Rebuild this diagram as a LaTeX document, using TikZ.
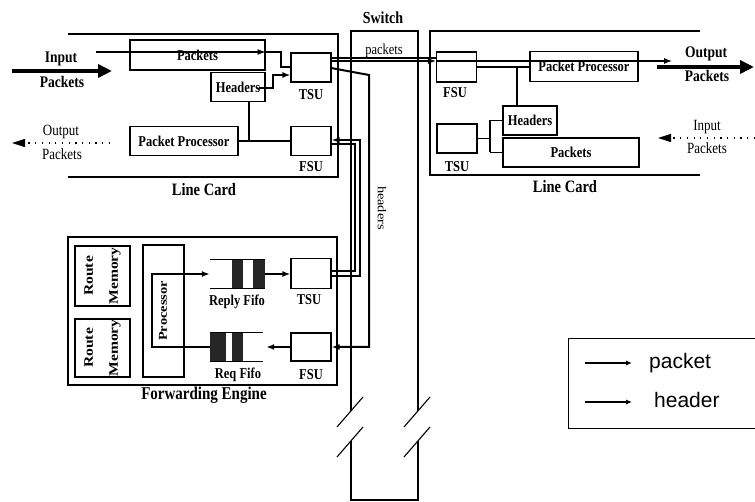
\documentclass[tikz,border=0pt]{standalone}
\usepackage{fontspec}
\usepackage{graphicx}
\setmainfont{Liberation Serif}
\newfontfamily\legendfont{Liberation Sans}
\usetikzlibrary{arrows.meta,calc}
\newcommand{\vs}[1]{\scalebox{1}[1.2]{#1}}
\newcommand{\hs}[1]{\scalebox{1.2}[1]{#1}}
\begin{document}
\begin{tikzpicture}[x=1pt,y=-1pt,
  box/.style={draw, line width=1.1pt, inner sep=0pt, rectangle, font=\fontsize{12.5}{13}\selectfont\bfseries},
  lbl/.style={inner sep=0pt, font=\fontsize{12.5}{13}\selectfont\bfseries},
  rlbl/.style={inner sep=0pt, font=\fontsize{13}{14}\selectfont},
  frame/.style={line width=1.1pt},
  wire/.style={line width=1.1pt},
  hwire/.style={line width=2pt},
  tip/.style={-{Latex[length=8pt,width=6pt]}},
  bigarrow/.style={line width=4pt,-{Triangle[length=14pt,width=13pt]}},
  dotarrow/.style={line width=1.1pt,dash pattern=on 1.2pt off 5.5pt,-{Triangle[length=13pt,width=8pt]}},
  fifo/.style={fill=black!85, draw=none},
  legtip/.style={line width=1.1pt,-{Latex[length=6pt,width=5pt]}}
]
\useasboundingbox (0,0) rectangle (755,502);

% ---------------- Switch ----------------
\node[inner sep=0pt, minimum width=67, minimum height=469] (sw) at (384.5,265.5) {};
\draw[frame] (351,411) -- (351,31) -- (418,31) -- (418,411);
\draw[frame] (351,441) -- (351,500) -- (418,500) -- (418,441);
\draw[frame] (337,427) -- (363,397);
\draw[frame] (337,457) -- (363,427);
\draw[frame] (404,427) -- (430,397);
\draw[frame] (404,457) -- (430,427);
\node[lbl, font=\fontsize{14}{15}\selectfont\bfseries] (swl) at (383,18) {\vs{Switch}};
\node[rlbl, font=\fontsize{12.5}{13}\selectfont] (swp) at (384,51) {\vs{packets}};
\node[rlbl, font=\fontsize{12}{13}\selectfont, rotate=-90] (swh) at (382,208) {\hs{headers}};

% ---------------- Left line card ----------------
\draw[frame] (68,34) -- (338,34) -- (338,177) -- (68,177);
\node[lbl, font=\fontsize{14.5}{15}\selectfont\bfseries] (lcl) at (204,190) {\vs{Line Card}};
\node[box, minimum width=135, minimum height=30] (lpk) at (197.5,55) {\vs{Packets}};
\node[box, minimum width=54, minimum height=29] (lhd) at (238,87) {\vs{Headers}};
\node[box, minimum width=108, minimum height=29] (lpp) at (184,141) {\vs{Packet Processor}};
\node[box, minimum width=40, minimum height=29] (ltsu) at (311,67.5) {};
\node[box, minimum width=40, minimum height=29] (lfsu) at (311,141) {};
\node[lbl] (ltsul) at (311,95) {\vs{TSU}};
\node[lbl] (lfsul) at (311,167) {\vs{FSU}};

\node[lbl, font=\fontsize{13.5}{14}\selectfont\bfseries] (inl1) at (61,59) {\vs{Input}};
\node[lbl, font=\fontsize{13.5}{14}\selectfont\bfseries] (inl2) at (62,82) {\vs{Packets}};
\node[rlbl] (outl1) at (61,132) {\vs{Output}};
\node[rlbl] (outl2) at (62,154) {\vs{Packets}};
\coordinate (inA) at (12,71);
\coordinate (inB) at (112,71);
\draw[bigarrow] (inA) -- (inB);
\coordinate (loA) at (110,143);
\coordinate (loB) at (12,143);
\draw[dotarrow] (loA) -- (loB);

% ---------------- Right line card ----------------
\draw[frame] (700,31) -- (430,31) -- (430,175) -- (700,175);
\node[lbl, font=\fontsize{14.5}{15}\selectfont\bfseries] (rcl) at (565,187) {\vs{Line Card}};
\node[box, minimum width=40, minimum height=30] (rfsu) at (456.5,67) {};
\node[box, minimum width=108, minimum height=30] (rpp) at (584,66.5) {\vs{Packet Processor}};
\node[box, minimum width=54, minimum height=29] (rhd) at (530,120.5) {\vs{Headers}};
\node[box, minimum width=136, minimum height=29] (rpk) at (571,152.5) {\vs{Packets}};
\node[box, minimum width=40, minimum height=29] (rtsu) at (457,138.5) {};
\node[lbl] (rfsul) at (455,93) {\vs{FSU}};
\node[lbl] (rtsul) at (457,167) {\vs{TSU}};

\node[lbl, font=\fontsize{13.5}{14}\selectfont\bfseries] (outr1) at (706,54) {\vs{Output}};
\node[lbl, font=\fontsize{13.5}{14}\selectfont\bfseries] (outr2) at (707,76) {\vs{Packets}};
\node[rlbl] (inr1) at (707,127) {\vs{Input}};
\node[rlbl] (inr2) at (707,148) {\vs{Packets}};
\coordinate (roA) at (657,67);
\coordinate (roB) at (754,67);
\draw[bigarrow] (roA) -- (roB);
\coordinate (riA) at (755,138);
\coordinate (riB) at (658,138);
\draw[dotarrow] (riA) -- (riB);

% ---------------- Forwarding engine ----------------
\draw[frame] (68,237) rectangle (337,385);
\node[lbl, font=\fontsize{15}{16}\selectfont\bfseries] (fel) at (204,395) {\vs{Forwarding Engine}};
\node[box, minimum width=55, minimum height=60, align=center, font=\fontsize{13}{15}\selectfont\bfseries] (rm1) at (102.5,276) {};
\node[lbl, rotate=90, align=center, font=\fontsize{13}{25}\selectfont\bfseries] at (rm1.center) {\hs{Route}\\\hs{Memory}};
\node[box, minimum width=55, minimum height=58] (rm2) at (102.5,348) {};
\node[lbl, rotate=90, align=center, font=\fontsize{13}{25}\selectfont\bfseries] at (rm2.center) {\hs{Route}\\\hs{Memory}};
\node[box, minimum width=41, minimum height=132] (proc) at (163.5,311) {};
\node[lbl, rotate=90, font=\fontsize{12}{13}\selectfont\bfseries] (procl) at (163,311) {\hs{Processor}};

\node[inner sep=0pt, minimum width=55, minimum height=28] (rpf) at (237.5,274) {};
\fill[fifo] (232,260) rectangle (243,288);
\fill[fifo] (253,260) rectangle (265,288);
\draw[frame] (rpf.north west) -- (rpf.north east);
\draw[frame] (rpf.south west) -- (rpf.south east);
\node[lbl] (rpfl) at (237,302) {\vs{Reply Fifo}};

\node[inner sep=0pt, minimum width=53, minimum height=28] (rqf) at (236.5,347) {};
\fill[fifo] (210,333) rectangle (226,361);
\fill[fifo] (232,333) rectangle (243,361);
\draw[frame] (rqf.north west) -- (rqf.north east);
\draw[frame] (rqf.south west) -- (rqf.south east);
\node[lbl] (rqfl) at (238,375) {\vs{Req Fifo}};

\node[box, minimum width=40, minimum height=30] (ftsu) at (311,273.5) {};
\node[box, minimum width=40, minimum height=28] (ffsu) at (311,347) {};
\node[lbl] (ftsul) at (309,300) {\vs{TSU}};
\node[lbl] (ffsul) at (311,375) {\vs{FSU}};

% ---------------- Connectors: left card ----------------
\coordinate (pin) at (96,52);
\coordinate (pk2) at (281,67);
\draw[wire, tip] (pin) -- (pin -| lpk.east);
\draw[hwire] (pin -| lpk.east) -| (pk2) -- (pk2 -| ltsu.west);
\coordinate (h1) at (273,88);
\coordinate (h2) at (273,75);
\draw[hwire, tip] ($(lhd.east)+(-7,1)$) -- (h1) -- (h2) -- (h2 -| ltsu.west);
\coordinate (hd) at (249,141);
\draw[hwire] (hd |- lhd.south) -- (hd);
\draw[wire] (lpp.east) -- (hd);
\draw[hwire] (hd) -- (lfsu.west);

% packets across the switch
\coordinate (sp1) at (331,58);
\coordinate (sp2) at (331,61);
\coordinate (pout) at (672,61);
\draw[wire] (sp1) -- (sp1 -| rfsu.west);
\draw[wire, tip] (sp2) -- (sp2 -| rfsu.west);
\draw[wire, tip] (sp2 -| rfsu.west) -- (pout);

% headers down the switch
\coordinate (hs0) at (331,68);
\coordinate (hs1) at (369,75);
\coordinate (hs2) at (369,347);
\draw[hwire, tip, line join=miter] (hs0) -- (hs1) -- (hs2) -- (hs2 -| ffsu.east);

% headers back up the switch
\coordinate (r1) at (360,276);
\coordinate (r2) at (360,140);
\draw[hwire, tip] (ftsu.east |- r1) -- (r1) -- (r2) -- (r2 -| lfsu.east);
\coordinate (q1) at (355,271);
\coordinate (q2) at (355,144);
\draw[wire] (ftsu.east |- q1) -- (q1) -- (q2) -- (q2 -| lfsu.east);

% ---------------- Connectors: right card ----------------
\draw[wire] (rfsu.east) -- (rfsu.east -| rpp.west);
\coordinate (rb) at (517,67);
\draw[wire] (rb) -- (rb |- rhd.north);
\coordinate (rt) at (490,138.5);
\draw[wire] (rtsu.east) -- (rt);
\draw[wire] (rt |- rhd.west) -- (rt |- rpk.west);
\draw[wire] (rt |- rhd.west) -- (rhd.west);
\draw[wire] (rt |- rpk.west) -- (rpk.west);

% ---------------- Connectors: forwarding engine ----------------
\coordinate (p1) at (152,347);
\coordinate (p2) at (152,274);
\draw[hwire, tip] (rqf.west) -- (p1) -- (p2) -- (rpf.west);
\draw[hwire, tip] (rpf.east) -- (ftsu.west |- rpf.east);
\draw[hwire, tip] (ffsu.west) -- ($(rqf.east)+(3,0)$);

% ---------------- Legend ----------------
\draw[line width=1pt] (568,339) rectangle (758,428);
\coordinate (la1) at (585,363);
\coordinate (la2) at (632,363);
\coordinate (lb1) at (585,402);
\coordinate (lb2) at (632,402);
\draw[legtip] (la1) -- (la2);
\draw[legtip] (lb1) -- (lb2);
\node[anchor=west, inner sep=0pt, font=\legendfont\fontsize{21}{22}\selectfont] (lgp) at (649,363) {packet};
\node[anchor=west, inner sep=0pt, font=\legendfont\fontsize{21}{22}\selectfont] (lgh) at (654,400) {header};
\end{tikzpicture}
\end{document}
